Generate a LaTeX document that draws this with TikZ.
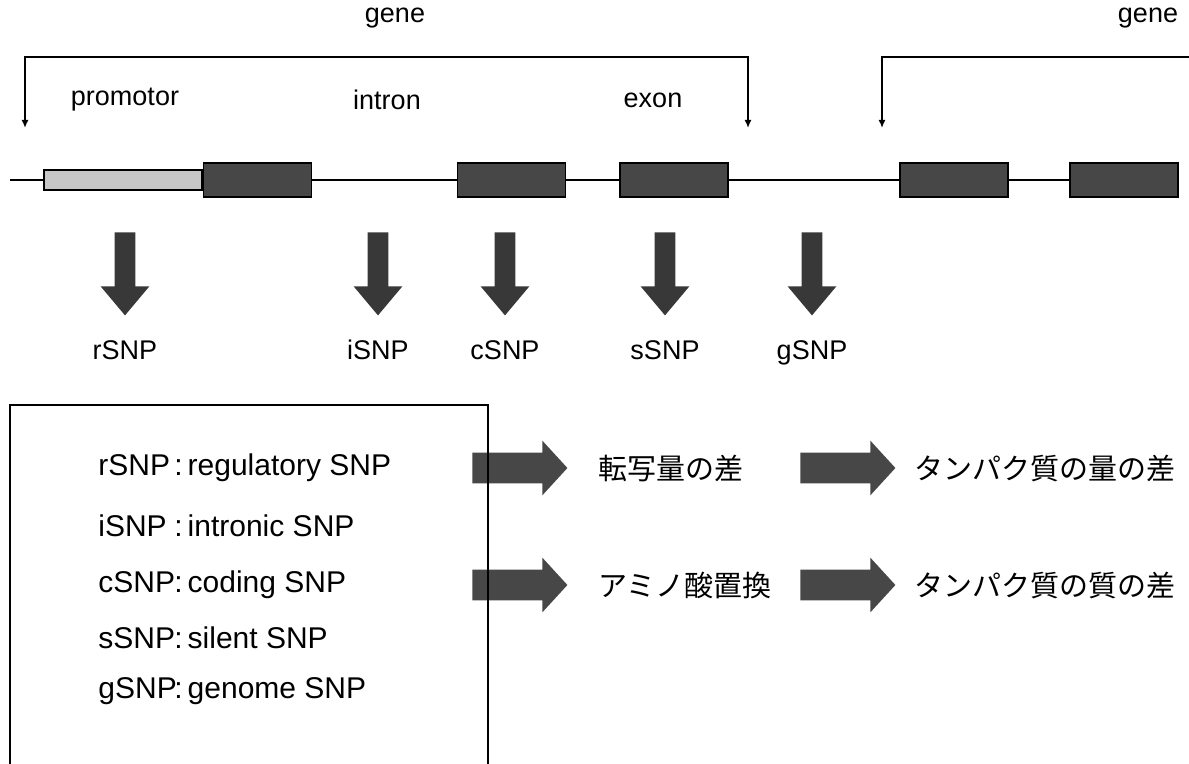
\documentclass[tikz,border=0pt]{standalone}
\usepackage{fontspec}
\setmainfont{Liberation Sans}
\newfontfamily\jpfont{Noto Sans CJK JP}
\usetikzlibrary{arrows.meta,positioning,shapes.arrows}

\begin{document}
\begin{tikzpicture}[x=0.5pt,y=-0.5pt,>={Latex[length=4pt,width=3.5pt]},
  lbl/.style={font=\fontsize{13.5}{16}\selectfont,inner sep=0pt},
  key/.style={font=\fontsize{15}{18}\selectfont,inner sep=0pt,anchor=west},
  jp/.style={font=\fontsize{14.5}{17}\selectfont\jpfont,inner sep=0pt,anchor=west},
  exonbox/.style={draw,line width=0.8pt,fill=black!72,minimum width=54pt,minimum height=17pt,inner sep=0pt},
  prombox/.style={draw,line width=0.8pt,fill=black!22,minimum width=79pt,minimum height=10pt,inner sep=0pt},
  downarr/.style={single arrow,fill=black!78,inner sep=5pt,single arrow head extend=7pt,
    single arrow tip angle=80,minimum height=41.5pt,shape border rotate=270,anchor=tail},
  rightarr/.style={single arrow,fill=black!72,inner sep=7.5pt,single arrow head extend=6pt,
    single arrow tip angle=95,minimum height=47.5pt,anchor=tail},
  brk/.style={line width=0.8pt}]

  \useasboundingbox (0,0) rectangle (1189,764);

  % genes
  \node[lbl] (gene1) at (395,18) {gene};
  \node[lbl] (gene2) at (1148,18) {gene};
  \coordinate (g1s) at (25,128);
  \coordinate (g1e) at (748,128);
  \coordinate (g2s) at (882,128);
  \coordinate (g2r) at (1189,57);
  \draw[brk,<->] (g1s) -- ++(0,-71) -| (g1e);
  \draw[brk,->] (g2r) -| (g2s);

  \node[lbl] (promo) at (125,100) {promotor};
  \node[lbl] (intron) at (387,100) {intron};
  \node[lbl] (exon) at (653,100) {exon};

  % DNA strand
  \coordinate (dnaL) at (10,180);
  \node[exonbox] (e1) at (257.5,180) {};
  \node[prombox,left=0pt of e1] (prom) {};
  \node[exonbox] (e2) at (511.5,180) {};
  \node[exonbox] (e3) at (674,180) {};
  \node[exonbox] (e4) at (954,180) {};
  \node[exonbox] (e5) at (1124,180) {};
  \draw[line width=1pt] (dnaL) -- (prom) (e1) -- (e2) -- (e3) -- (e4) -- (e5);

  % SNP arrows
  \foreach \nm/\x in {r/125,i/378,c/505,s/665,g/812} {
    \node[downarr] (\nm arr) at (\x,232) {};
    \node[lbl,below=12pt of \nm arr.tip] (\nm lbl) {\nm SNP};
  }

  % effects
  \node[rightarr] (ra1) at (472,468) {};
  \node[rightarr] (ra2) at (800,468) {};
  \node[rightarr] (rb1) at (472,585) {};
  \node[rightarr] (rb2) at (800,585) {};
  \node[jp] (tx1) at (598,468) {転写量の差};
  \node[jp] (tx2) at (914,468) {タンパク質の量の差};
  \node[jp] (tx3) at (598,585) {アミノ酸置換};
  \node[jp] (tx4) at (914,585) {タンパク質の質の差};

  % legend
  \draw[line width=0.8pt] (10,770) -- (10,405) -- (488,405) -- (488,770);
  \foreach \nm/\desc/\y [count=\k] in {rSNP/regulatory/468,iSNP/intronic/526,
      cSNP/coding/585,sSNP/silent/638,gSNP/genome/691}
    \node[key] (key\k) at (98,\y) {\makebox[38pt][l]{\nm}:\,\desc{} SNP};
\end{tikzpicture}
\end{document}
